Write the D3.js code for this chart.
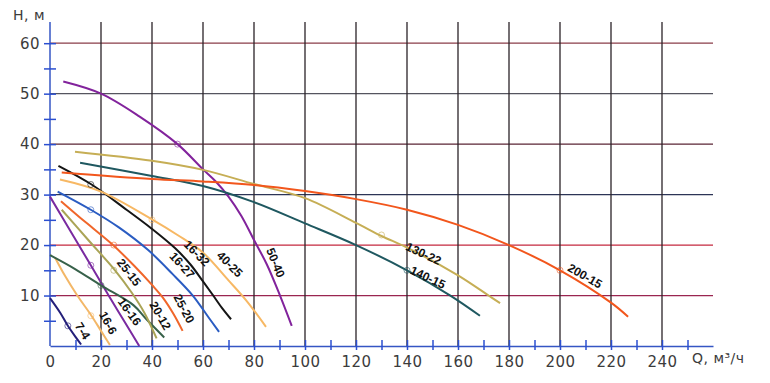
<!DOCTYPE html>
<html>
<head>
<meta charset="utf-8">
<script src="https://cdn.jsdelivr.net/npm/d3@7"></script>
<style>
  body { margin: 0; background: #fff; }
  .tick-label { font-family: "DejaVu Sans", sans-serif; font-size: 15px; fill: #3c3c3c; letter-spacing: 0.5px; }
  .curve-label { font-family: "Liberation Sans", Arial, sans-serif; font-size: 12px; font-weight: bold; fill: #111; }
</style>
</head>
<body>
<svg width="770" height="383"></svg>
<script>
// curve data, [Q, H]
var c7_4 = [[0,9.5],[4,6.6],[7,4],[10,1.8],[12.2,0.3]]
var c16_6 = [[2,17.5],[6,13.8],[10.7,10],[16,6.2],[20,3],[23.5,0.2]]
var c16_16 = [[0,29.6],[8,22.8],[16,16],[23,10],[29,5],[35,0]]
var c20_12 = [[0,18],[10,15.2],[20,12],[32.7,8.1],[38,5.2],[44.8,1.7]]
var c25_15 = [[4.6,27],[15,21],[25.5,15],[32,10.6],[37,6.6],[41.8,1.5]]
var c25_20 = [[4.3,28.7],[14,24.5],[24.7,20],[33,15.9],[40,12.1],[44.4,9.5],[48.5,6.3],[52,3]]
var c16_27 = [[3,30.6],[16,27],[27,23.5],[38.5,19],[48,14.3],[56,10],[62,5.8],[66.3,2.8]]
var c16_32 = [[3.3,35.7],[16.3,32],[30,27.0],[40,23.2],[49,19.4],[55,16.2],[60,12.8],[64,10],[67.5,7.5],[71,5.3]]
var c40_25 = [[3.9,33],[20,30.6],[40.3,25],[50,22],[60,18.5],[70,13],[77,9],[84.7,3.8]]
var c50_40 = [[5.2,52.4],[20,50],[35,45.5],[50,40],[60,35],[65,32.6],[70,29.6],[75,25.8],[80,21],[85,16.2],[90.2,10],[94.8,4]]
var c140_15 = [[11.8,36.3],[40,33.7],[60,31.7],[80,28.5],[100,24.3],[120,20],[140,15],[157,10],[168.6,6]]
var c130_22 = [[9.8,38.5],[40,36.7],[60,34.9],[80,32.1],[100,29.3],[120,24.4],[130,21.8],[140,19.5],[160,14],[172,10],[176.5,8.5]]
var c200_15 = [[4.6,34.4],[40,33.1],[60,32.6],[80,31.9],[100,30.7],[120,29.1],[140,27],[160,24],[180,20],[200,15],[220,8.6],[226.7,5.8]]

var curveNames = ['7-4','16-6','16-16','20-12','25-15','25-20','16-27','16-32','40-25','50-40','140-15','130-22','200-15']
var curveData = [c7_4, c16_6, c16_16, c20_12, c25_15, c25_20, c16_27, c16_32, c40_25, c50_40, c140_15, c130_22, c200_15]
// duty points (Q, H) marked on each curve
var dutyPoints = [[7,4],[16,6],[16,16],[20,12],[25,15],[25,20],[16,27],[16,32],[40,25],[50,40],[140,15],[130,22],[200,15]]

var xTicks = [0,20,40,60,80,100,120,140,160,180,200,220,240]
var xMinor = [10,30,50,70,90,110,130,150,170,190,210,230,250]
var yTicks = [10,20,30,40,50,60]
var yMinor = [5,15,25,35,45,55]

// styles and label placement
var colors = {
    '7-4': '#24207a', '16-6': '#f3b767', '16-16': '#7a2aa0', '20-12': '#37614a',
    '25-15': '#aaa456', '25-20': '#f0662a', '16-27': '#2a5cc2', '16-32': '#151515',
    '40-25': '#f7b864', '50-40': '#82239c', '140-15': '#1f5860', '130-22': '#c6ae55',
    '200-15': '#f2561c'
}
var labelPos = {
    '7-4': [12.8,3.0,58], '16-6': [22.8,4.6,62], '16-16': [31.2,6.8,54], '25-15': [31,14.6,52],
    '20-12': [43.3,6.0,60], '25-20': [52.6,7.4,62], '16-27': [51.8,16.0,48], '16-32': [57.6,18.4,45],
    '40-25': [70.5,16.2,45], '50-40': [88.5,16.5,68], '130-22': [146.5,18.3,25], '140-15': [148.2,13.6,25],
    '200-15': [209.8,13.9,30]
}
var gridColors = {10: '#9a2550', 20: '#c4283f', 30: '#2c3456', 40: '#5a2434', 50: '#55555f', 60: '#8a3c48'}

var svg = d3.select('svg')

var xScale = d3.scaleLinear().domain([0, 260]).range([50, 713])
var yScale = d3.scaleLinear().domain([0, 64.2]).range([346, 22])

// grid
svg.append('g').selectAll('line')
    .data(yTicks).enter().append('line')
        .attr('x1', xScale(0)).attr('x2', xScale(260))
        .attr('y1', d => yScale(d)).attr('y2', d => yScale(d))
        .attr('stroke', d => gridColors[d])
        .attr('stroke-width', 1.3)

svg.append('g').selectAll('line')
    .data(xTicks.slice(1)).enter().append('line')
        .attr('x1', d => xScale(d)).attr('x2', d => xScale(d))
        .attr('y1', yScale(64.2)).attr('y2', yScale(0))
        .attr('stroke', '#2a2228')
        .attr('stroke-width', 1.3)

// axes
var yAxis = d3.axisLeft(yScale)
    .tickValues(yTicks.concat(yMinor))
    .tickSize(6)
    .tickSizeOuter(0)
    .tickFormat(d => d % 10 === 0 ? d : '')

var yg = svg.append('g')
    .attr('transform', 'translate(' + xScale(0) + ',0)')
    .call(yAxis)
yg.select('.domain').attr('stroke', '#3556c4').attr('stroke-width', 1.5)
    .attr('d', 'M0,' + yScale(64.2) + 'V' + yScale(0))
yg.selectAll('.tick line').attr('x1', -6).attr('x2', 6).attr('stroke', '#2b4fd0').attr('stroke-width', 1.5)
yg.selectAll('.tick text').attr('class', 'tick-label').attr('x', -10)

var xAxis = d3.axisBottom(xScale)
    .tickValues(xTicks.concat(xMinor))
    .tickSize(5)
    .tickSizeOuter(0)
    .tickFormat(d => d % 20 === 0 ? d : '')

var xg = svg.append('g')
    .attr('transform', 'translate(0,' + yScale(0) + ')')
    .call(xAxis)
xg.select('.domain').attr('stroke', '#3556c4').attr('stroke-width', 1.5)
xg.selectAll('.tick line').attr('y1', -6).attr('y2', 4).attr('stroke', '#2b4fd0').attr('stroke-width', 1.5)
xg.selectAll('.tick text').attr('class', 'tick-label').attr('y', 10).attr('dy', '0.71em')
xg.selectAll('.tick').filter(d => d === 0).select('line').remove()

// curves
var line = d3.line()
    .x(d => xScale(d[0]))
    .y(d => yScale(d[1]))
    .curve(d3.curveCatmullRom.alpha(0.5))

svg.append('g').selectAll('path')
    .data(curveData).enter().append('path')
        .attr('d', line)
        .attr('fill', 'none')
        .attr('stroke', (d, i) => colors[curveNames[i]])
        .attr('stroke-width', 2)

// duty point markers
svg.append('g').selectAll('circle')
    .data(dutyPoints).enter().append('circle')
        .attr('cx', d => xScale(d[0]))
        .attr('cy', d => yScale(d[1]))
        .attr('r', 3)
        .attr('fill', 'none')
        .attr('stroke', (d, i) => colors[curveNames[i]])
        .attr('stroke-opacity', 0.6)
        .attr('stroke-width', 1)

// curve labels
svg.append('g').selectAll('text')
    .data(curveNames).enter().append('text')
        .attr('class', 'curve-label')
        .attr('text-anchor', 'middle')
        .attr('dy', '0.35em')
        .attr('transform', d => 'translate(' + xScale(labelPos[d][0]) + ',' + yScale(labelPos[d][1]) + ') rotate(' + labelPos[d][2] + ')')
        .text(d => d)

// axis titles
svg.append('text')
    .attr('class', 'tick-label')
    .style('font-size', '14px')
    .attr('x', 13).attr('y', 20)
    .text('H, м')

svg.append('text')
    .attr('class', 'tick-label')
    .style('font-size', '14px')
    .attr('x', 692).attr('y', 363)
    .text('Q, м³/ч')
</script>
</body>
</html>
